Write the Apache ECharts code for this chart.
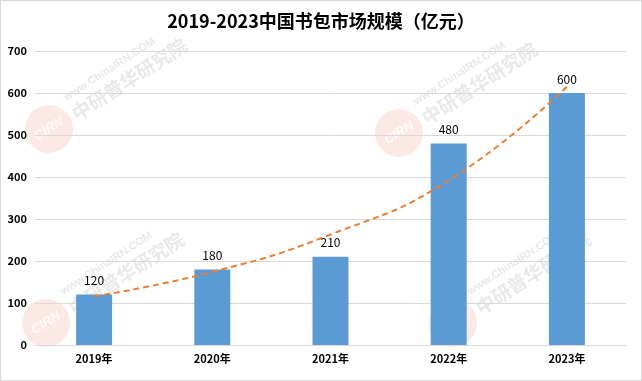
<!DOCTYPE html>
<html>
<head>
<meta charset="utf-8">
<script src="https://cdn.jsdelivr.net/npm/echarts@6/dist/echarts.min.js"></script>
<style>
html,body{margin:0;padding:0;background:#fff;}
#chart{width:642px;height:381px;box-sizing:border-box;border:1px solid #d9d9d9;}
</style>
</head>
<body>
<div id="chart"></div>
<script>
const titleText = '2019-2023中国书包市场规模（亿元）';
const categories = ['2019年', '2020年', '2021年', '2022年', '2023年'];
const marketSize = [120, 180, 210, 480, 600];
const trendValues = [116, 174, 263, 392, 615];
const yTicks = [0, 100, 200, 300, 400, 500, 600, 700];
const watermarkSite = 'www.ChinaIRN.COM';
const watermarkName = '中研普华研究院';
const watermarkLogo = 'CIRN';

const font = '"Noto Sans CJK SC", "Noto Sans", sans-serif';

function watermark(x, y) {
  return {
    type: 'group',
    x: x, y: y,
    rotation: 33 * Math.PI / 180,
    silent: true,
    z: 0,
    children: [
      {type: 'circle', shape: {cx: 0, cy: 0, r: 24}, style: {fill: 'rgba(240,140,120,0.2)'}},
      {type: 'text', x: 0, y: 0, style: {text: watermarkLogo, fill: 'rgba(255,255,255,0.85)', font: 'bold italic 13px sans-serif', align: 'center', verticalAlign: 'middle'}},
      {type: 'text', x: 28, y: 2, style: {text: watermarkName, fill: 'rgba(180,180,180,0.3)', font: 'bold 19px ' + font, verticalAlign: 'middle'}},
      {type: 'text', x: 30, y: -17, style: {text: watermarkSite, fill: 'rgba(180,180,180,0.3)', font: 'bold 11px sans-serif', verticalAlign: 'middle'}}
    ]
  };
}

const chart = echarts.init(document.getElementById('chart'), null, {renderer: 'canvas'});
chart.setOption({
  animation: false,
  backgroundColor: '#ffffff',
  title: {
    text: titleText,
    left: 'center',
    top: 6,
    textStyle: {fontFamily: font, fontSize: 18, fontWeight: 'bold', color: '#000000'}
  },
  graphic: [watermark(48, 128), watermark(398, 132), watermark(45, 322), watermark(452, 322)],
  grid: {left: 34, right: 15, top: 50, bottom: 35, containLabel: false},
  xAxis: {
    type: 'category',
    data: categories,
    axisLine: {lineStyle: {color: '#d9d9d9', width: 1}},
    axisTick: {show: false},
    axisLabel: {fontFamily: font, fontSize: 11, fontWeight: 'bold', color: '#000000', margin: 8}
  },
  yAxis: {
    type: 'value',
    min: yTicks[0],
    max: yTicks[yTicks.length - 1],
    interval: 100,
    axisLine: {show: false},
    axisTick: {show: false},
    splitLine: {lineStyle: {color: '#d9d9d9', width: 1}},
    axisLabel: {fontFamily: font, fontSize: 11, fontWeight: 'bold', color: '#000000', margin: 8}
  },
  series: [
    {
      type: 'bar',
      data: marketSize,
      barWidth: 36,
      itemStyle: {color: '#5b9bd5'},
      label: {show: true, position: 'top', distance: 8, fontFamily: font, fontSize: 12, color: '#000000'},
      z: 3
    },
    {
      type: 'line',
      data: trendValues,
      smooth: true,
      symbol: 'none',
      lineStyle: {color: '#ed7d31', width: 2, type: [6, 4]},
      z: 5
    }
  ]
});
</script>
</body>
</html>
